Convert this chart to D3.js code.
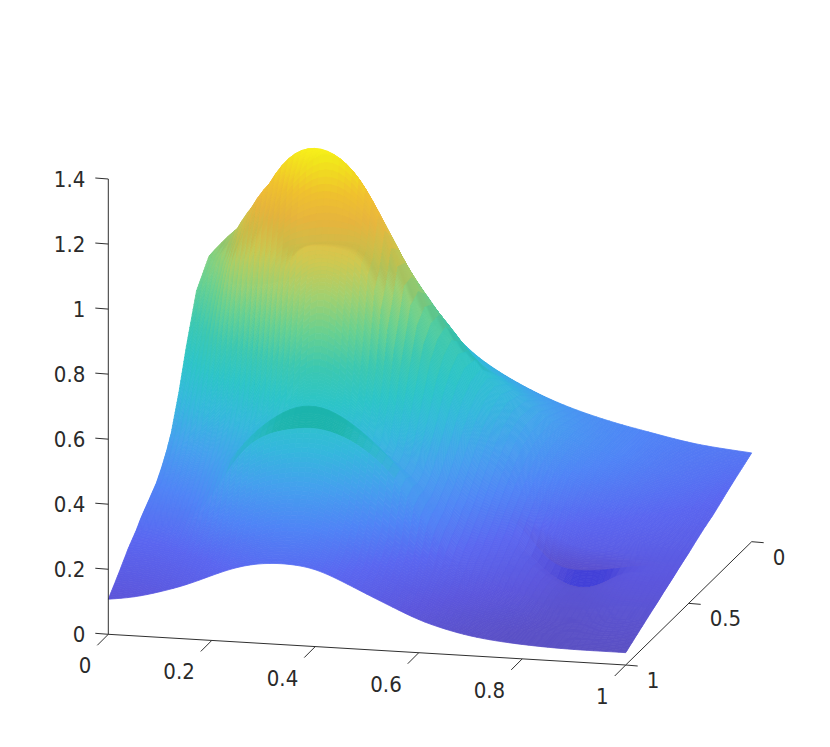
<!DOCTYPE html>
<html>
<head>
<meta charset="utf-8">
<script src="https://cdn.jsdelivr.net/npm/d3@7"></script>
<style>
    html, body { margin: 0; background: #fff; }
    text { font-family: "DejaVu Sans Condensed", "DejaVu Sans", sans-serif; font-stretch: condensed; font-size: 22px; fill: #2a2a2a; }
</style>
</head>
<body>
<div id="chart"></div>
<script>

// grid positions
var xValues = [0, 0.05, 0.1, 0.15, 0.2, 0.25, 0.3, 0.35, 0.4, 0.45, 0.5, 0.55, 0.6, 0.65, 0.7, 0.75, 0.8, 0.85, 0.9, 0.95, 1];
var yValues = [1, 0.92, 0.84, 0.78, 0.74, 0.7, 0.66, 0.62, 0.58, 0.54, 0.5, 0.44, 0.38, 0.3, 0.2, 0.1, 0];

// surface heights, one list per x value, running along yValues
var zAtX = [
    [.108, .155, .205, .235, .26, .28, .30, .32, .35, .385, .43, .53, .65, .79, .86, .78, .70],
    [.118, .165, .215, .25, .275, .30, .33, .37, .42, .48, .55, .66, .78, .90, .95, .75, .70],
    [.14, .185, .235, .27, .295, .33, .37, .42, .48, .58, .75, .94, 1.02, 1.06, 1.0, .80, .72],
    [.165, .21, .28, .36, .40, .44, .47, .50, .55, .72, .98, 1.12, 1.16, 1.12, .95, .82, .74],
    [.20, .25, .36, .50, .515, .50, .52, .58, .78, 1.02, 1.15, 1.265, 1.22, 1.05, .90, .80, .75],
    [.232, .28, .40, .557, .587, .57, .60, .80, 1.052, 1.05, 1.27, 1.315, 1.27, 1.08, .93, .82, .76],
    [.248, .30, .42, .577, .634, .60, .72, .95, 1.065, 1.06, 1.33, 1.30, 1.20, 1.04, .92, .82, .78],
    [.25, .31, .43, .586, .637, .60, .70, .93, 1.057, 1.07, 1.28, 1.23, 1.12, .98, .88, .80, .755],
    [.24, .29, .40, .565, .598, .56, .64, .80, 1.03, 1.06, 1.15, 1.08, 1.0, .88, .74, .66, .63],
    [.207, .25, .35, .52, .535, .50, .54, .62, .74, .84, .93, .94, .88, .80, .69, .60, .54],
    [.17, .20, .28, .45, .46, .44, .45, .50, .56, .62, .68, .74, .77, .71, .60, .53, .486],
    [.135, .16, .22, .33, .35, .36, .38, .40, .43, .46, .50, .55, .58, .60, .55, .49, .443],
    [.10, .125, .17, .22, .25, .27, .30, .32, .35, .38, .41, .45, .48, .50, .49, .45, .407],
    [.077, .095, .13, .165, .19, .21, .235, .26, .285, .31, .335, .37, .40, .42, .42, .40, .378],
    [.06, .075, .105, .13, .15, .165, .185, .205, .235, .255, .275, .31, .34, .365, .375, .365, .355],
    [.05, .06, .09, .11, .125, .135, .14, .121, .125, .19, .235, .27, .30, .33, .345, .34, .335],
    [.044, .05, .06, .07, .08, .085, .085, .074, .11, .16, .20, .24, .27, .30, .32, .32, .319],
    [.04, .045, .055, .07, .08, .085, .09, .075, .117, .16, .195, .225, .25, .275, .29, .295, .302],
    [.038, .05, .065, .085, .095, .105, .12, .135, .132, .155, .175, .205, .225, .25, .27, .28, .288],
    [.038, .06, .08, .095, .105, .115, .125, .135, .145, .155, .17, .19, .21, .235, .255, .27, .28],
    [.038, .057, .076, .09, .099, .109, .118, .127, .137, .146, .155, .17, .184, .2, .226, .25, .273]
];

// colour against height
var colorHeights = [.03, .12, .22, .32, .42, .52, .62, .72, .82, .92, 1.02, 1.12, 1.2, 1.27, 1.33];
var colorValues = ['#5a4fc0', '#5c56dc', '#5a66f0', '#4f84f6', '#44a0ee', '#34b8dc', '#2cc4c8', '#3cc8b0',
    '#68d090', '#a0d070', '#d0c850', '#f0bc40', '#f8c830', '#f8e420', '#f8fa18'];

// ticks
var xTicks = [0, 0.2, 0.4, 0.6, 0.8, 1];
var yTicks = [0, 0.5, 1];
var zTicks = [0, 0.2, 0.4, 0.6, 0.8, 1, 1.2, 1.4];

// steep folds: grid row, x range, tint and how fast the tint comes in
var foldRows = [3, 7, 8];
var foldFrom = [0.17, 0.72, 0.66];
var foldTo = [0.5, 0.93, 0.98];
var foldTint = ['#1cb4ac', '#4240d8', '#5848bc'];
var foldGain = [26, 34, 9];
var foldTaper = [0, 0, 1];

// where the upper ridge runs on the grid
var ridgeX = [0, 0.05, 0.1, 0.15, 0.2, 0.25, 0.3, 0.35, 0.4, 0.45, 0.5, 0.54];
var ridgeY = [0.18, 0.31, 0.44, 0.5, 0.54, 0.58, 0.58, 0.58, 0.58, 0.5, 0.38, 0.3];

var width = 830, height = 747;
var originX = 108.3, originY = 634.3;

// the three axes projected on to the page
var xToPx = d3.scaleLinear().domain([0, 1]).range([0, 517.4]);
var xToPy = d3.scaleLinear().domain([0, 1]).range([0, 30.7]);
var yToPx = d3.scaleLinear().domain([1, 0]).range([0, 126]);
var yToPy = d3.scaleLinear().domain([1, 0]).range([0, -123.3]);
var zToPy = d3.scaleLinear().domain([0, 1.4]).range([0, -455.3]);
var colorScale = d3.scaleLinear().domain(colorHeights).range(colorValues).interpolate(d3.interpolateRgb).clamp(true);
var ridgeScale = d3.scaleLinear().domain(ridgeX).range(ridgeY).clamp(true);

function project(x, y, z) {
    return [originX + xToPx(x) + yToPx(y), originY + xToPy(x) + yToPy(y) + zToPy(z)];
}

var svg = d3.select('#chart').append('svg')
    .attr('width', width)
    .attr('height', height);

// curves along x for every row of the grid
var rowCurves = yValues.map(function(y, r) {
    return d3.interpolateBasis(zAtX.map(function(col) { return col[r]; }));
});

var stepsX = 80, stepsY = 12;
var quads = [];

// back rows first, so nearer ones paint over them
for (var r = yValues.length - 2; r >= 0; r--) {
    for (var j = stepsY - 1; j >= 0; j--) {
        for (var i = 0; i < stepsX; i++) {
            quads.push(makeQuad(r, j, i));
        }
    }
}

function makeQuad(r, j, i) {
    var u0 = i / stepsX, u1 = (i + 1) / stepsX;
    var v0 = j / stepsY, v1 = (j + 1) / stepsY;

    var height00 = d3.interpolateNumber(rowCurves[r](u0), rowCurves[r + 1](u0));
    var height10 = d3.interpolateNumber(rowCurves[r](u1), rowCurves[r + 1](u1));
    var yAt = d3.interpolateNumber(yValues[r], yValues[r + 1]);

    var pts = [
        project(u0, yAt(v0), height00(v0)),
        project(u1, yAt(v0), height10(v0)),
        project(u1, yAt(v1), height10(v1)),
        project(u0, yAt(v1), height00(v1))
    ];

    var meanZ = (height00(v0) + height10(v0) + height00(v1) + height10(v1)) / 4;
    var c = d3.rgb(colorScale(meanZ));

    // tint the steep folds, fading out at both ends
    var f = foldRows.indexOf(r);
    if (f >= 0 && u0 > foldFrom[f] && u0 < foldTo[f]) {
        var rise = Math.max(0, rowCurves[r + 1](u0) - rowCurves[r](u0));
        var fade = Math.sin(Math.PI * (u0 - foldFrom[f]) / (foldTo[f] - foldFrom[f]));
        var amount = Math.min(1, rise * foldGain[f]) * (foldTaper[f] ? fade * (1 - v0) : Math.sqrt(fade));
        c = d3.rgb(d3.interpolateRgb(c, foldTint[f])(amount));
    }

    // the sheet just behind the upper ridge sits in shade, coming in softly
    var behind = ridgeScale(u0) - yAt(v0);
    if (u0 < 0.54 && behind > 0) {
        c = c.darker(0.18 * Math.min(1, behind / 0.02) * Math.max(0, 1 - behind / 0.14));
    }
    return { points: pts, color: c.formatHex() };
}

svg.append('g').selectAll('polygon')
    .data(quads)
    .enter().append('polygon')
    .attr('points', function(d) { return d.points.join(' '); })
    .attr('fill', function(d) { return d.color; })
    .attr('stroke', function(d) { return d.color; })
    .attr('stroke-width', 0.8);

// axes
var axes = svg.append('g').attr('stroke', '#303030').attr('stroke-width', 1).attr('fill', 'none');

function axisLine(a, b) {
    axes.append('line').attr('x1', a[0]).attr('y1', a[1]).attr('x2', b[0]).attr('y2', b[1]);
}

axisLine(project(0, 1, 0), project(0, 1, 1.4));
axisLine(project(0, 1, 0), project(1, 1, 0));
axisLine(project(1, 1, 0), project(1, 0, 0));

zTicks.forEach(function(t) {
    var p = project(0, 1, t);
    axisLine(p, [p[0] - 13, p[1] - 1]);
    svg.append('text').attr('x', p[0] - 23).attr('y', p[1] + 8).attr('text-anchor', 'end').text(t);
});

xTicks.forEach(function(t) {
    var p = project(t, 1, 0);
    axisLine(p, [p[0] - 11, p[1] + 11]);
    svg.append('text').attr('x', p[0] - 17).attr('y', p[1] + 39).attr('text-anchor', 'end').text(t);
});

yTicks.forEach(function(t) {
    var p = project(1, t, 0);
    axisLine(p, [p[0] + 12, p[1] + 1]);
    svg.append('text').attr('x', p[0] + 21).attr('y', p[1] + 23).text(t);
});

</script>
</body>
</html>
